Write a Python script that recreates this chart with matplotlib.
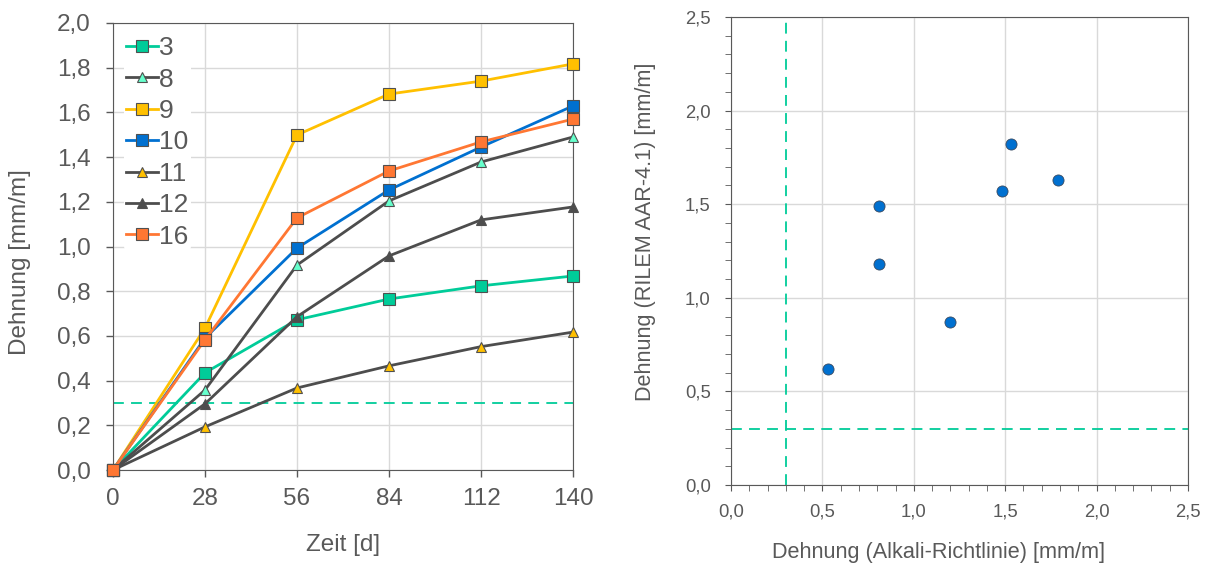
import numpy as np
import matplotlib.pyplot as plt
from matplotlib.ticker import FuncFormatter, MultipleLocator

plt.rcParams['font.family'] = ['Liberation Sans', 'DejaVu Sans']

GRAY = "#595959"
GRID = "#d9d9d9"
THRESH = "#00cc99"

# left chart: expansion over time
days = [0, 28, 56, 84, 112, 140]
s3 = [0, 0.435, 0.672, 0.765, 0.824, 0.868]
s8 = [0, 0.358, 0.917, 1.204, 1.378, 1.49]
s9 = [0, 0.635, 1.499, 1.682, 1.74, 1.817]
s10 = [0, 0.59, 0.993, 1.253, 1.445, 1.629]
s11 = [0, 0.193, 0.367, 0.466, 0.552, 0.617]
s12 = [0, 0.296, 0.686, 0.958, 1.119, 1.177]
s16 = [0, 0.583, 1.128, 1.338, 1.468, 1.57]

# right chart: RILEM vs Alkali-Richtlinie
alkali = [0.53, 0.81, 0.81, 1.20, 1.48, 1.53, 1.79]
rilem = [0.62, 1.49, 1.18, 0.87, 1.57, 1.82, 1.63]

threshold = 0.3

comma = FuncFormatter(lambda v, p: f"{v:.1f}".replace(".", ","))

fig = plt.figure(figsize=(12.06, 5.72), dpi=100)
ax1 = fig.add_axes([113 / 1206, 1 - 470 / 572, 460 / 1206, 447 / 572])
ax2 = fig.add_axes([731 / 1206, 1 - 485 / 572, 457 / 1206, 468 / 572])

series = [
    ("3", s3, "#00cc99", "s", "#00cc99", 9),
    ("8", s8, "#4d4d4d", "^", "#66ffcc", 7),
    ("9", s9, "#ffc000", "s", "#ffc000", 9),
    ("10", s10, "#0070d0", "s", "#0070d0", 9),
    ("11", s11, "#4d4d4d", "^", "#ffc000", 7),
    ("12", s12, "#4d4d4d", "^", "#4d4d4d", 7),
    ("16", s16, "#ff7733", "s", "#ff7733", 9),
]
for name, vals, col, mk, fc, ms in series:
    ax1.plot(days, vals, "-", color=col, lw=2, marker=mk, ms=ms,
             mfc=fc, mec="#505050", mew=0.8, label=name, zorder=3,
             clip_on=False)
ax1.axhline(threshold, color=THRESH, ls=(0, (6, 4)), lw=1.3, zorder=2)

ax1.set_xlim(0, 140)
ax1.set_ylim(0, 2.0)
ax1.set_xticks(days)
ax1.set_yticks(np.arange(0, 2.01, 0.2))
ax1.yaxis.set_major_formatter(comma)
ax1.grid(True, color=GRID, lw=1)
ax1.set_axisbelow(True)
ax1.tick_params(colors=GRAY, labelsize=17.5, length=5, width=1,
                direction="out")
ax1.tick_params(axis="x", pad=8)
ax1.tick_params(axis="y", pad=11)
ax1.set_xlabel("Zeit [d]", fontsize=17.5, color=GRAY)
ax1.set_ylabel("Dehnung [mm/m]", fontsize=17.5, color=GRAY)
ax1.xaxis.set_label_coords(0.5, -0.168)
ax1.yaxis.set_label_coords(-0.202, 0.465)
ax1.xaxis.label.set_va("center")
ax1.yaxis.label.set_va("center")
for sp in ax1.spines.values():
    sp.set_color(GRAY)
leg = ax1.legend(loc="upper left", fontsize=19, frameon=True,
                 framealpha=1, edgecolor="none", handlelength=1.2,
                 handletextpad=0.05, labelspacing=0.28, borderpad=0.1,
                 borderaxespad=0.4, labelcolor=GRAY)

ax2.plot(alkali, rilem, "o", ms=8, color="#0070d0", mec="#3a4a60",
         mew=0.6, zorder=3, ls="none")
ax2.axhline(threshold, color=THRESH, ls=(0, (6, 4)), lw=1.3, zorder=2)
ax2.axvline(threshold, color=THRESH, ls=(0, (6, 4)), lw=1.3, zorder=2)
ax2.set_xlim(0, 2.5)
ax2.set_ylim(0, 2.5)
ax2.xaxis.set_major_locator(MultipleLocator(0.5))
ax2.yaxis.set_major_locator(MultipleLocator(0.5))
ax2.xaxis.set_minor_locator(MultipleLocator(0.1))
ax2.yaxis.set_minor_locator(MultipleLocator(0.1))
ax2.xaxis.set_major_formatter(comma)
ax2.yaxis.set_major_formatter(comma)
ax2.grid(True, which="major", color=GRID, lw=1)
ax2.set_axisbelow(True)
ax2.tick_params(which="major", colors=GRAY, labelsize=13.3, length=4.5,
                direction="out")
ax2.tick_params(which="minor", colors=GRAY, length=4, direction="out")
ax2.tick_params(axis="x", pad=9)
ax2.tick_params(axis="y", pad=10)
ax2.set_xlabel("Dehnung (Alkali-Richtlinie) [mm/m]", fontsize=15.6,
               color=GRAY)
ax2.set_ylabel("Dehnung (RILEM AAR-4.1) [mm/m]", fontsize=15.6,
               color=GRAY)
ax2.xaxis.set_label_coords(0.453, -0.145)
ax2.yaxis.set_label_coords(-0.188, 0.54)
ax2.xaxis.label.set_va("center")
ax2.yaxis.label.set_va("center")
for sp in ax2.spines.values():
    sp.set_color(GRAY)

fig.savefig("out.png", dpi=100)
